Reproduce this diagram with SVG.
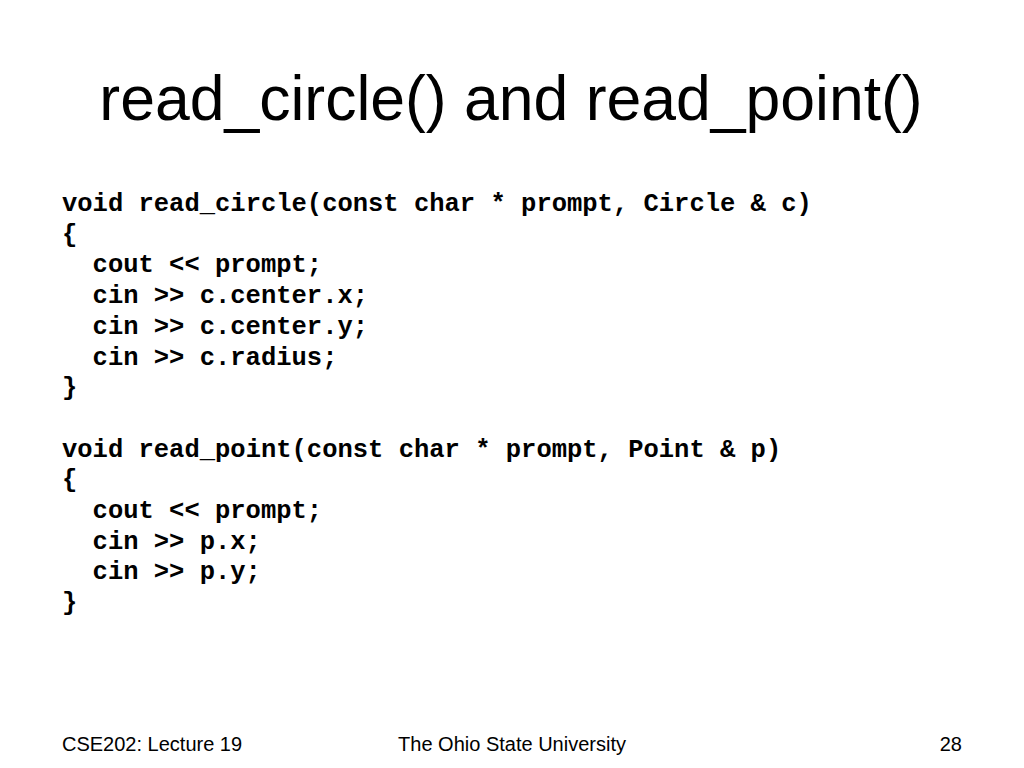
<svg xmlns="http://www.w3.org/2000/svg" width="1024" height="768" viewBox="0 0 1024 768">
<style>
.title{font-family:"Liberation Sans",Arial,sans-serif;font-size:62.5px;fill:#000}
.code{font-family:"Liberation Mono","Courier New",monospace;font-weight:bold;font-size:25.5px;fill:#000}
.foot{font-family:"Liberation Sans",Arial,sans-serif;font-size:20px;fill:#000}
</style>
<rect width="1024" height="768" fill="#fff"/>
<g id="title"><text class="title" x="511" y="120" text-anchor="middle">read_circle() and read_point()</text></g>
<g id="code" class="code">
<text x="62" y="211">void read_circle(const char * prompt, Circle &amp; c)</text>
<text x="62" y="241.7">{</text>
<text x="92.6" y="272.4">cout &lt;&lt; prompt;</text>
<text x="92.6" y="303.1">cin &gt;&gt; c.center.x;</text>
<text x="92.6" y="333.8">cin &gt;&gt; c.center.y;</text>
<text x="92.6" y="364.5">cin &gt;&gt; c.radius;</text>
<text x="62" y="395.2">}</text>
<text x="62" y="456.6">void read_point(const char * prompt, Point &amp; p)</text>
<text x="62" y="487.3">{</text>
<text x="92.6" y="518">cout &lt;&lt; prompt;</text>
<text x="92.6" y="548.7">cin &gt;&gt; p.x;</text>
<text x="92.6" y="579.4">cin &gt;&gt; p.y;</text>
<text x="62" y="610.1">}</text>
</g>
<g id="footer" class="foot">
<text x="62" y="751">CSE202: Lecture 19</text>
<text x="512" y="751" text-anchor="middle">The Ohio State University</text>
<text x="962" y="751" text-anchor="end">28</text>
</g>
</svg>
